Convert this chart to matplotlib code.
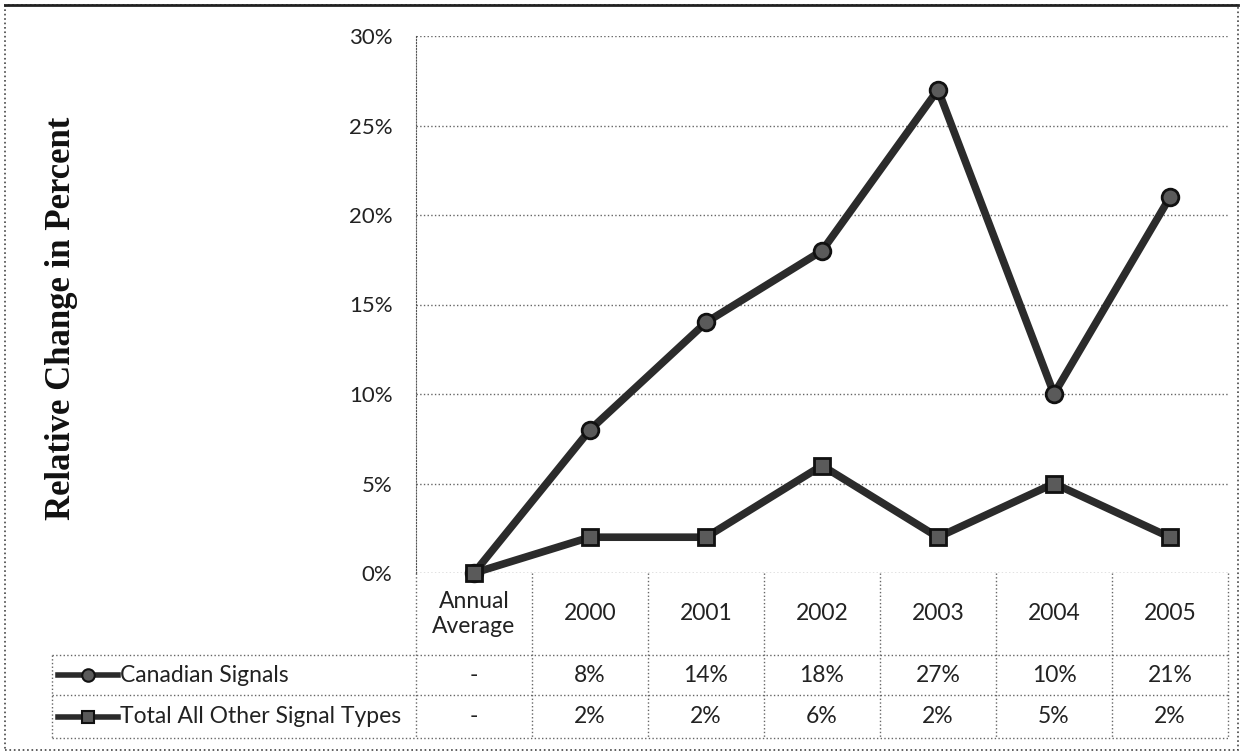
import matplotlib.pyplot as plt
import numpy as np
from matplotlib.patches import Rectangle

# data
categories = ['Annual\nAverage', '2000', '2001', '2002', '2003', '2004', '2005']
canadian = [0, 8, 14, 18, 27, 10, 21]
other = [0, 2, 2, 6, 2, 5, 2]
canadian_labels = ['-', '8%', '14%', '18%', '27%', '10%', '21%']
other_labels = ['-', '2%', '2%', '6%', '2%', '5%', '2%']
series_names = ['Canadian Signals', 'Total All Other Signal Types']
yticks = [0, 5, 10, 15, 20, 25, 30]

plt.rcParams['font.family'] = ['Lato', 'DejaVu Sans']
fs = 16.5

W, H = 1243, 755
fig = plt.figure(figsize=(W / 100, H / 100), dpi=100)

# frame round the whole picture
fig.patches.append(Rectangle((5 / W, 5 / H), 1233 / W, 745 / H, transform=fig.transFigure,
                             fill=False, ls=':', lw=1.2, ec='#444'))
fig.lines.append(plt.Line2D([5 / W, 1238 / W], [1 - 5 / H, 1 - 5 / H],
                            transform=fig.transFigure, color='#222', lw=2))

left, right, top, bottom = 416, 1228, 36, 573
ax = fig.add_axes([left / W, 1 - bottom / H, (right - left) / W, (bottom - top) / H])
x = np.arange(len(categories))
ax.set_xlim(-0.5, len(categories) - 0.5)
ax.set_ylim(0, 30)
ax.set_yticks(yticks)
ax.set_yticklabels(['%d%%' % v for v in yticks], fontsize=16, color='#222')
ax.tick_params(axis='y', length=0, pad=17)
ax.set_xticks([])
ax.yaxis.grid(True, ls=':', color='#666', lw=1)
ax.set_axisbelow(True)
for s in ['top', 'right', 'bottom']:
    ax.spines[s].set_visible(False)
ax.spines['left'].set_linestyle(':')
ax.spines['left'].set_color('#555')

ax.plot(x, canadian, color='#2b2b2b', lw=5.5, marker='o', ms=12, mfc='#5a5a5a',
        mec='#111', mew=2, clip_on=False, zorder=5)
ax.plot(x, other, color='#2b2b2b', lw=5.5, marker='s', ms=11, mfc='#5a5a5a',
        mec='#111', mew=2, clip_on=False, zorder=5)

fig.text(62 / W, 1 - 318 / H, 'Relative Change in Percent', rotation=90, ha='center',
         va='center', fontsize=25, fontweight='bold', family='Liberation Serif', color='#111')

# data table under the plot, in pixel coordinates
tab = fig.add_axes([0, 0, 1, 1], facecolor='none')
tab.set_xlim(0, W)
tab.set_ylim(H, 0)
tab.axis('off')
colw = (right - left) / len(categories)
head_b, row1_b, row2_b, lab_l = 655, 695, 738, 52
grid_kw = dict(ls=':', color='#666', lw=1)
for k in range(len(categories) + 1):
    xx = left + k * colw
    tab.plot([xx, xx], [bottom, row2_b], **grid_kw)
tab.plot([lab_l, lab_l], [head_b, row2_b], **grid_kw)
for yy in [head_b, row1_b, row2_b]:
    tab.plot([lab_l, right], [yy, yy], **grid_kw)

for i, c in enumerate(categories):
    cx = left + (i + 0.5) * colw
    tab.text(cx, (bottom + head_b) / 2, c, ha='center', va='center', fontsize=fs,
             color='#222', linespacing=1.2)
    tab.text(cx, (head_b + row1_b) / 2, canadian_labels[i], ha='center', va='center',
             fontsize=fs, color='#222')
    tab.text(cx, (row1_b + row2_b) / 2, other_labels[i], ha='center', va='center',
             fontsize=fs, color='#222')

for yy, name, mk in [((head_b + row1_b) / 2, series_names[0], 'o'),
                     ((row1_b + row2_b) / 2, series_names[1], 's')]:
    tab.plot([58, 118], [yy, yy], color='#2b2b2b', lw=4)
    tab.plot([88], [yy], marker=mk, ms=9, mfc='#5a5a5a', mec='#111', mew=1.5)
    tab.text(120, yy, name, ha='left', va='center', fontsize=fs, color='#222')

fig.savefig('out.png', dpi=100)
